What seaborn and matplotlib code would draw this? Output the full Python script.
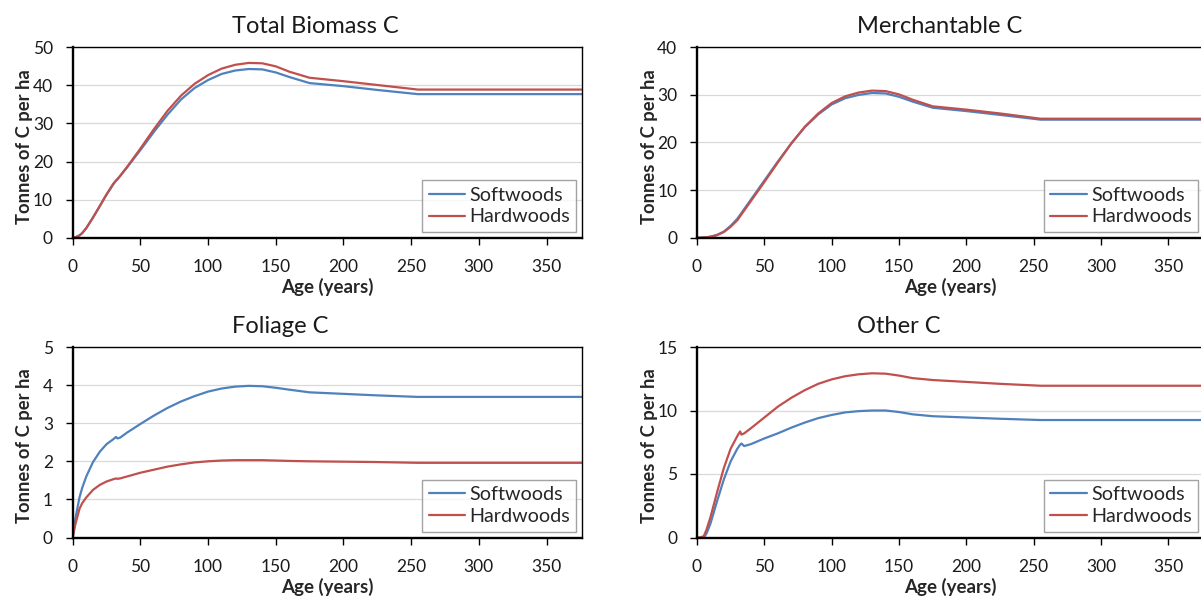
import matplotlib
matplotlib.use("Agg")
import matplotlib.pyplot as plt
import seaborn as sns
import numpy as np

ages = [0, 2, 5, 7, 10, 15, 20, 25, 30, 32, 33, 35, 40, 50, 60, 70, 80, 90,
        100, 110, 120, 130, 140, 150, 160, 175, 200, 225, 255, 376]

total_sw = [0, 0.1, 0.6, 1.2, 2.5, 5.3, 8.3, 11.3, 14.0, 15.0, 15.4, 16.2, 18.4, 23.0, 27.8, 32.3, 36.3, 39.3,
            41.4, 43.0, 43.9, 44.3, 44.2, 43.4, 42.2, 40.6, 39.8, 38.8, 37.7, 37.7]
total_hw = [0, 0.1, 0.6, 1.2, 2.5, 5.3, 8.3, 11.4, 14.2, 15.0, 15.3, 16.2, 18.5, 23.4, 28.5, 33.3, 37.3, 40.4,
            42.7, 44.4, 45.4, 45.9, 45.8, 45.0, 43.6, 42.0, 41.1, 40.1, 38.9, 38.9]

merch_sw = [0, 0, 0.05, 0.1, 0.2, 0.6, 1.3, 2.5, 4.0, 4.8, 5.2, 6.0, 8.0, 12.0, 16.0, 19.8, 23.2, 25.9,
            28.0, 29.3, 30.0, 30.4, 30.3, 29.6, 28.6, 27.3, 26.6, 25.8, 24.8, 24.8]
merch_hw = [0, 0, 0.05, 0.1, 0.2, 0.55, 1.2, 2.3, 3.7, 4.5, 4.9, 5.7, 7.7, 11.7, 15.8, 19.8, 23.3, 26.1,
            28.3, 29.7, 30.5, 30.9, 30.8, 30.1, 29.0, 27.6, 26.9, 26.1, 25.0, 25.0]

foliage_sw = [0, 0.5, 1.05, 1.3, 1.6, 1.98, 2.25, 2.45, 2.58, 2.64, 2.6, 2.62, 2.75, 2.98, 3.2, 3.4, 3.57, 3.71,
              3.83, 3.91, 3.96, 3.98, 3.97, 3.93, 3.88, 3.81, 3.77, 3.73, 3.69, 3.69]
foliage_hw = [0, 0.35, 0.75, 0.9, 1.05, 1.25, 1.38, 1.47, 1.53, 1.55, 1.54, 1.55, 1.6, 1.7, 1.78, 1.86, 1.92, 1.97,
              2.0, 2.02, 2.03, 2.03, 2.03, 2.02, 2.01, 2.0, 1.99, 1.98, 1.96, 1.96]

other_sw = [0, 0, 0, 0.3, 1.1, 2.9, 4.6, 6.0, 7.0, 7.3, 7.4, 7.2, 7.35, 7.8, 8.2, 8.65, 9.05, 9.4,
            9.65, 9.85, 9.95, 10.0, 10.0, 9.88, 9.7, 9.55, 9.45, 9.35, 9.25, 9.25]
other_hw = [0, 0, 0.1, 0.6, 1.6, 3.6, 5.5, 7.0, 8.0, 8.35, 8.1, 8.2, 8.6, 9.45, 10.3, 11.0, 11.6, 12.1,
            12.45, 12.7, 12.85, 12.93, 12.9, 12.75, 12.55, 12.4, 12.25, 12.1, 11.95, 11.95]

titles = ["Total Biomass C", "Merchantable C", "Foliage C", "Other C"]
y_max = [50, 40, 5, 15]
y_step = [10, 10, 1, 5]
series_names = ["Softwoods", "Hardwoods"]
x_ticks = [0, 50, 100, 150, 200, 250, 300, 350]

sns.set_theme(style="white")
plt.rcParams["font.family"] = ["Lato", "DejaVu Sans"]

W, H = 1201, 596
fig = plt.figure(figsize=(W / 100, H / 100), dpi=100)

def px_axes(left, top, right, bottom):
    return [left / W, 1 - bottom / H, (right - left) / W, (bottom - top) / H]

rects = [
    px_axes(72.7, 47.3, 581.7, 237.7),
    px_axes(697.0, 47.3, 1203.5, 237.7),
    px_axes(72.7, 347.0, 581.7, 537.5),
    px_axes(697.0, 347.0, 1203.5, 537.5),
]
data = [(total_sw, total_hw), (merch_sw, merch_hw), (foliage_sw, foliage_hw), (other_sw, other_hw)]
colors = ["#4F81BD", "#C0504D"]

for i, rect in enumerate(rects):
    ax = fig.add_axes(rect)
    for name, vals, c in zip(series_names, data[i], colors):
        sns.lineplot(x=ages, y=vals, ax=ax, color=c, linewidth=1.6, label=name, sort=False)
    ax.set_xlim(0, 376)
    ax.set_ylim(0, y_max[i])
    ax.set_xticks(x_ticks)
    ax.set_yticks(np.arange(0, y_max[i] + 0.001, y_step[i]))
    ax.grid(axis="y", color="#D9D9D9", linewidth=0.9)
    ax.grid(axis="x", visible=False)
    ax.set_axisbelow(True)
    for s in ["left", "bottom"]:
        ax.spines[s].set_linewidth(1.7)
        ax.spines[s].set_color("black")
    for s in ["top", "right"]:
        ax.spines[s].set_linewidth(1.0)
        ax.spines[s].set_color("black")
    ax.tick_params(axis="both", which="major", direction="out", length=4.7, width=1.0,
                   color="black", labelsize=12.5, labelcolor="#1a1a1a",
                   left=True, bottom=True)
    ax.tick_params(axis="y", pad=9.5)
    ax.tick_params(axis="x", pad=10.5)
    ax.set_xlabel("Age (years)", fontsize=13.5, fontweight="bold", va="center")
    ax.xaxis.set_label_coords(0.5, -49 / 190.4)
    ax.set_ylabel("Tonnes of C per ha", fontsize=13.2, fontweight="bold", va="center")
    ax.yaxis.set_label_coords(-48 / 509, 0.48)
    tx = (231.7 - 72.7) / 509 if i % 2 == 0 else (857 - 697) / 506.5
    ax.text(tx, 1 + 14 / 190.4, titles[i], transform=ax.transAxes, ha="left",
            va="baseline", fontsize=17, color="#1a1a1a")
    leg = ax.legend(loc="lower right", bbox_to_anchor=(0.989, 0.031), borderaxespad=0,
                    fancybox=False, frameon=True, fontsize=14.2, handlelength=1.85,
                    handletextpad=0.2, labelspacing=0.25, borderpad=0.32)
    leg.get_frame().set_edgecolor("#8C8C8C")
    leg.get_frame().set_linewidth(1.0)

fig.savefig("out.png", dpi=100)
